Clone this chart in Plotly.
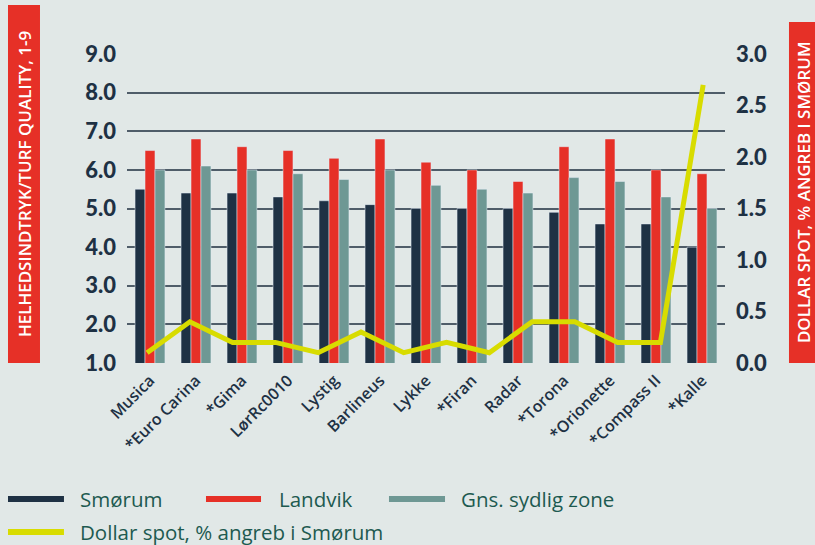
import plotly.graph_objects as go

# data
varieties = ["Musica", "*Euro Carina", "*Gima", "LørRc0010", "Lystig", "Barlineus",
             "Lykke", "*Firan", "Radar", "*Torona", "*Orionette", "*Compass II", "*Kalle"]
smorum = [5.5, 5.4, 5.4, 5.3, 5.2, 5.1, 5.0, 5.0, 5.0, 4.9, 4.6, 4.6, 4.0]
landvik = [6.5, 6.8, 6.6, 6.5, 6.3, 6.8, 6.2, 6.0, 5.7, 6.6, 6.8, 6.0, 5.9]
sydlig = [6.0, 6.1, 6.0, 5.9, 5.75, 6.0, 5.6, 5.5, 5.4, 5.8, 5.7, 5.3, 5.0]
dollar_spot = [0.1, 0.4, 0.2, 0.2, 0.1, 0.3, 0.1, 0.2, 0.1, 0.4, 0.4, 0.2, 0.2, 2.7]
y_ticks = [1, 2, 3, 4, 5, 6, 7, 8, 9]
y2_ticks = [0, 0.5, 1.0, 1.5, 2.0, 2.5, 3.0]

NAVY = "#1e3144"
RED = "#e63027"
TEAL = "#6e9894"
YELLOW = "#d8dc00"
BG = "#e1e8e7"
LEGEND_TXT = "#1d5a50"

fig = go.Figure()
fig.add_trace(go.Bar(x=varieties, y=smorum, name="Smørum", marker_color=NAVY))
fig.add_trace(go.Bar(x=varieties, y=landvik, name="Landvik", marker_color=RED))
fig.add_trace(go.Bar(x=varieties, y=sydlig, name="Gns. sydlig zone", marker_color=TEAL))
fig.add_trace(go.Scatter(x=list(range(len(dollar_spot))), y=dollar_spot,
                         name="Dollar spot, % angreb i Smørum", mode="lines",
                         line=dict(color=YELLOW, width=5), xaxis="x2", yaxis="y2"))

tick_font = dict(family="Lato", size=22, color=NAVY, weight=900)

fig.update_layout(
    width=815, height=545,
    margin=dict(l=127, r=90, t=54, b=182),
    paper_bgcolor=BG, plot_bgcolor=BG,
    showlegend=False,
    barmode="group", bargap=0.35, bargroupgap=0,
    font=dict(family="Open Sans", color=NAVY),
    xaxis=dict(type="category", showgrid=False, showline=False, ticks="",
               tickangle=-45, ticklabelstandoff=4,
               tickfont=dict(family="Open Sans", size=16, color=NAVY, weight=600)),
    xaxis2=dict(overlaying="x", visible=False, range=[-0.47, 13.51]),
    yaxis=dict(range=[1, 9], tickvals=y_ticks, tickformat=".1f", showgrid=True,
               gridcolor="#4f5d69", gridwidth=1.5, zeroline=False, showline=False,
               ticks="", ticklabelstandoff=10, tickfont=tick_font),
    yaxis2=dict(range=[0, 3], tickvals=y2_ticks, tickformat=".1f", overlaying="y",
                side="right", anchor="x2", showgrid=False, zeroline=False, showline=False,
                ticks="", ticklabelstandoff=10, tickfont=tick_font),
)

# red axis title boxes
fig.add_shape(type="rect", xref="paper", yref="paper", x0=-0.199, x1=-0.1455, y0=0, y1=1.1586,
              fillcolor=RED, line_width=0, layer="below")
fig.add_shape(type="rect", xref="paper", yref="paper", x0=1.107, x1=1.152, y0=0, y1=1.1036,
              fillcolor=RED, line_width=0, layer="below")
fig.add_annotation(xref="paper", yref="paper", x=-0.1722, y=0.579, textangle=-90, showarrow=False,
                   xanchor="center", yanchor="middle",
                   text="HELHEDSINDTRYK/TURF QUALITY, 1-9",
                   font=dict(family="Open Sans", size=17, color="white", weight=600))
fig.add_annotation(xref="paper", yref="paper", x=1.1304, y=0.553, textangle=-90, showarrow=False,
                   xanchor="center", yanchor="middle",
                   text="DOLLAR SPOT, % ANGREB I SMØRUM",
                   font=dict(family="Open Sans", size=17, color="white", weight=600))

# legend drawn by hand
legend_items = [
    ("Smørum", NAVY, -0.1990, -0.1054, -0.0819, -0.4401),
    ("Landvik", RED, 0.1321, 0.2241, 0.2508, -0.4401),
    ("Gns. sydlig zone", TEAL, 0.4381, 0.5318, 0.5552, -0.4401),
    ("Dollar spot, % angreb i Smørum", YELLOW, -0.1990, -0.1054, -0.0819, -0.5469),
]
for label, color, sx0, sx1, tx, ly in legend_items:
    fig.add_shape(type="line", xref="paper", yref="paper", x0=sx0, x1=sx1, y0=ly, y1=ly,
                  line=dict(color=color, width=6))
    fig.add_annotation(xref="paper", yref="paper", x=tx, y=ly, xanchor="left", yanchor="middle",
                       showarrow=False, text=label,
                       font=dict(family="Open Sans", size=20.5, color=LEGEND_TXT))

fig.write_html("out.html", config={"displayModeBar": False},
               post_script="document.body.style.margin='0';")
